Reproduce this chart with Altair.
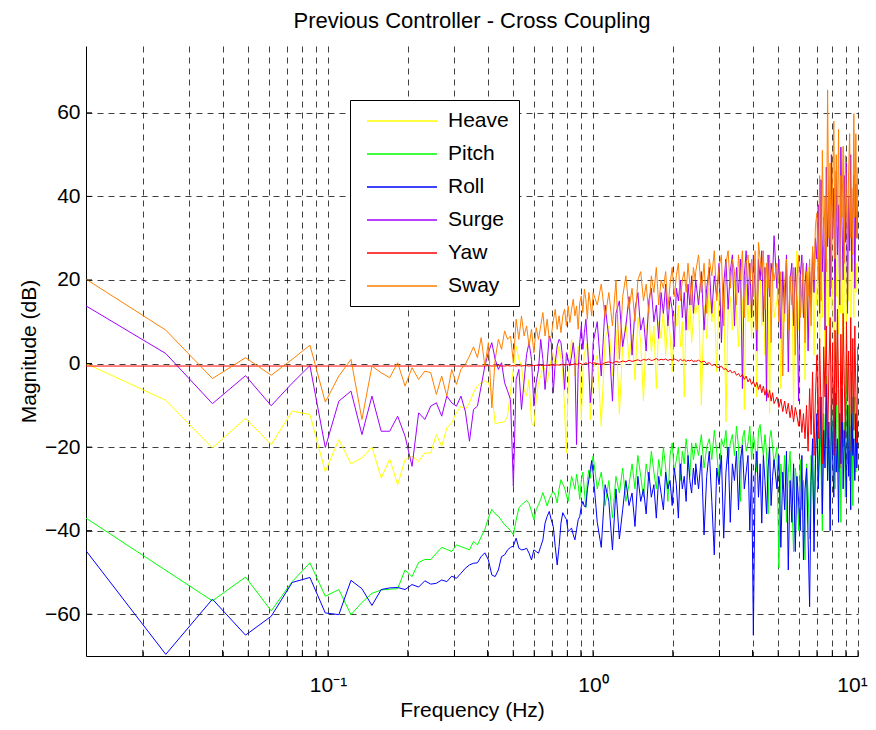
import altair as alt
import pandas as pd

# ---------------- frequency grid (FFT bins, df = 100/8192 Hz) ----------------
DF_HZ = 100.0 / 8192.0
K_LO = list(range(1, 83))          # every bin up to 1 Hz
K_A = list(range(85, 200, 3))      # 1.04 - 2.43 Hz
K_B = list(range(200, 400, 5))     # 2.44 - 4.82 Hz
K_C = list(range(405, 820, 7))     # 4.94 - 9.99 Hz
FREQ = [k * DF_HZ for k in K_LO + K_A + K_B + K_C]

SERIES = ["Heave", "Pitch", "Roll", "Surge", "Yaw", "Sway"]
COLORS = ["#FFFF00", "#00FF00", "#0000FF", "#A000FF", "#FF0000", "#FF8000"]

X_TICKS = [0.02, 0.03, 0.04, 0.05, 0.06, 0.07, 0.08, 0.09, 0.1,
           0.2, 0.3, 0.4, 0.5, 0.6, 0.7, 0.8, 0.9, 1,
           2, 3, 4, 5, 6, 7, 8, 9, 10]
Y_TICKS = [-60, -40, -20, 0, 20, 40, 60]

# ---------------- Heave (yellow) ----------------
HEAVE_LO = [0.0, -8.8, -20.2, -13.1, -19.4, -11.4, -12.2, -25.9, -18.2, -24.0,
            -22.6, -20.0, -27.4, -22.9, -29.0, -23.0, -22.2, -23.4, -21.4, -21.4,
            -17.0, -19.8, -15.4, -14.2, -11.8, -10.2, -11.0, -9.4, -7.0, -5.4,
            -4.6, -4.2, -4.6, -7.0, -14.4, -14.2, -14.1, -13.9, -12.6, -6.6,
            -1.4, 4.2, 1.0, -0.6, -6.2, -7.8, -3.8, -14.2, -15.0, -8.6,
            -4.6, -3.0, -0.6, -1.4, -4.6, -1.4, 1.0, 2.6, -0.6, 1.0,
            4.2, 1.0, -2.2, -11.0, -21.4, -5.4, 1.0, 5.8, 2.6, -3.0,
            1.0, 4.2, -0.6, -13.4, -2.2, 2.6, 3.4, 5.0, 1.0, -13.4,
            -7.8, -1.4]
HEAVE_A = [2, -15, 6, 9, -3, 8, -12, 4, 10, 1, 7, -4, 11, 5, -9, 8, 12, 3, 9, -6,
           10, 6, 13, 2, 11, 7, -2, 12, 9, 14, 4, 10, -8, 13, 8, 15, 5, 11, 14]
HEAVE_B = [12, 16, -10, 14, 6, 18, 10, 15, -2, 17, 11, 19, -14, 13, 16, 8, 20, 12, 4, 18,
           15, -11, 19, 10, 17, 6, 21, 13, -8, 18, 22, 9, 16, 2, 20, 14, -12, 19, 24, 11]
HEAVE_C = [15, 24, -6, 20, 10, 26, 3, 18, 22, -10, 16, 27, 8, 21, 12, 25, -4, 19, 23, 6,
           17, 26, 2, 21,
           14, 28, 5, 22, 11, 30, -3, 18, 25, 9, 27, 13, 20, 1, 24, 16, 29, 7, 21, 12,
           26, -5, 19, 28, 10, 23, 15, 31, 4, 20, 25, 11, 31.8, 17, 24, 22]

# ---------------- Pitch (green) ----------------
PITCH_LO = [-37.0, -49.5, -56.8, -51.1, -59.2, -52.2, -47.7, -55.7, -54.1, -60.1,
            -57.2, -55.0, -54.2, -54.0, -53.9, -49.4, -51.0, -47.6, -46.9, -46.9,
            -45.4, -44.0, -44.5, -45.0, -43.4, -43.8, -44.2, -44.6, -42.6, -43.4,
            -41.5, -39.7, -37.0, -34.9, -36.0, -36.5, -37.6, -38.6, -39.2, -40.0,
            -41.0, -37.5, -34.6, -33.8, -33.3, -32.8, -33.5, -35.4, -37.4, -35.0,
            -33.8, -32.5, -30.9, -32.5, -34.1, -32.5, -31.4, -30.6, -31.5, -33.4,
            -30.0, -27.8, -28.8, -29.8, -31.5, -33.0, -30.0, -27.0, -28.5, -30.1,
            -26.5, -29.0, -32.5, -28.0, -26.0, -30.5, -34.5, -28.0, -25.5, -27.5,
            -24.0, -22.1]
PITCH_A = [-30, -26, -34, -28, -37, -27, -31, -25, -33, -29, -24, -30, -22, -27, -32,
           -24, -28, -21, -26, -30, -23, -27, -20, -25, -33, -22, -19, -26, -23, -20,
           -28, -21, -24, -18, -22, -27, -19, -23, -20]
PITCH_B = [-19, -22, -17, -25, -20, -18, -23, -16, -21, -28, -18, -20, -16, -24, -19,
           -17, -22, -15, -20, -33, -18, -16, -21, -19, -15, -23, -17, -20, -26, -16,
           -14.6, -19, -22, -17, -21, -36, -18, -16, -20, -24]
PITCH_C = [-20, -49, -24, -30, -22, -38, -26, -21, -33, -45, -25, -29, -40, -23, -35,
           -28, -47, -24, -31, -42, -22, -27, -38, -20,
           -15, -30, -8, -25, -40, -12, -20, -3, -28, -18, -35, -10, -22, -5, -30,
           -16, 8, -26, -12, -38, -6, -20, -14, -32, 2, -24, -10, -28, -18, -2,
           -34, -15, -8, -26, -12, -20]

# ---------------- Roll (blue) ----------------
ROLL_LO = [-44.8, -69.6, -56.4, -65.0, -60.5, -52.4, -51.2, -59.7, -60.1, -51.9,
           -53.9, -57.9, -54.1, -53.7, -53.6, -54.1, -52.9, -53.5, -52.0, -52.8,
           -52.6, -51.8, -52.2, -50.9, -51.4, -50.2, -49.0, -48.2, -47.8, -47.7,
           -46.2, -45.3, -47.0, -50.6, -51.0, -49.4, -46.2, -45.8, -44.6, -44.0,
           -43.7, -41.8, -44.2, -44.6, -44.5, -44.2, -45.4, -47.0, -44.6, -45.0,
           -45.4, -43.8, -42.2, -38.2, -36.6, -35.4, -37.4, -39.0, -43.8, -48.2,
           -43.8, -38.2, -35.7, -36.6, -37.3, -40.2, -39.8, -39.4, -41.0, -42.2,
           -39.8, -37.4, -36.6, -34.2, -33.0, -34.2, -34.2, -30.2, -27.8, -25.4,
           -23.2, -26.2]
ROLL_A = [-38, -44, -29, -33, -44.6, -30, -42, -35, -28, -34, -31, -39, -27, -33, -30,
          -36, -26, -32, -29, -37, -27, -31, -35, -26, -30, -28, -34, -25, -29, -37,
          -24, -30, -27, -33, -22, -28, -31, -25, -29]
ROLL_B = [-24, -30, -22, -41, -27, -21, -33, -45.8, -25, -29, -22, -41.8, -26, -20, -38,
          -24, -28, -21, -35, -23, -19.5, -30, -26, -22, -40, -24, -65, -27, -21, -32,
          -24, -38.2, -22, -28, -36, -25, -20, -34, -27, -23]
ROLL_C = [-30, -22, -44, -26, -35, -21, -49.4, -28, -38, -24, -45, -27, -33, -40, -22,
          -47, -30, -25, -42, -58.2, -28, -18, -45, -24,
          -12, -30, -20, -8, -36, -16, -25, -5, -28, -14, -40, -10, -22, -32, -7,
          -26, -18, -38, -12, -24, -6, -30, -16, -21, -32, -10, -27, -15, -35, -8,
          -22, -18, -28, -12, -25, -14]

# ---------------- Surge (purple) ----------------
SURGE_LO = [13.8, 2.4, -9.6, -2.9, -10.1, -4.7, -0.5, -20.1, -9.0, -6.6,
            -17.0, -7.8, -16.2, -16.2, -12.6, -17.4, -24.6, -11.8, -13.4, -10.2,
            -9.4, -12.6, -7.8, -9.4, -10.2, -7.8, -11.4, -18.6, -11.0, -10.2,
            -5.4, -0.6, 2.6, 5.0, 1.0, -1.4, 0.2, -4.6, -6.6, -8.6,
            -29.4, -3.8, -1.4, -11.0, -4.2, 2.2, 5.0, 1.0, -10.2, -4.6,
            -1.4, 5.8, 1.0, -6.2, 0.2, 6.6, 5.0, -7.0, 0.2, 4.2,
            5.8, 5.0, 1.0, -6.2, 2.6, 1.0, -0.6, 1.8, 5.0, 1.0,
            -19.4, -1.4, 5.0, 9.0, 3.4, 7.4, 10.6, 5.0, -1.4, -9.4,
            -5.4, 5.0]
SURGE_A = [10, -3, 14, 6, -9, 12, 15, 4, 9, 16, 2, 13, 17, 8, 11, 3, 15, 18, 10, 14,
           6, 17, 12, 19, 9, 16, 13, 4, 18, 15, 20, 11, 17, 8, 19, 14, 21, 12, 18]
SURGE_B = [20, 14, 22, 8, 18, 23, 12, 21, 16, 24, 5, 19, 25, 13, 22, 26, 9, 23, 17, 25,
           -6, 21, 27, 14, 24, 11, 26, 18, 3, 25, 20, 27, 10, 23, -9, 26, 16, 24, 21, 30.6]
SURGE_C = [18, 25, 6, 22, 12, 26, -2, 20, 24, 9, 23, 15, -9, 21, 26, 11, 19, 24, 3, 22,
           14, 27, 17, 30,
           25, 38, 12, 44, 22, 35, 8, 47, 28, 40, 16, 50, 30, 42, 10, 46, 26, 38, 14, 51.8,
           33, 20, 45, 29, 48, 12, 40, 27, 50, 22, 36, 45, 18, 43, 30, 38]

# ---------------- Yaw (red) ----------------
YAW_LO = [-0.6, -0.6, -0.6, -0.6, -0.6, -0.6, -0.6, -0.6, -0.6, -0.6,
          -0.6, -0.6, -0.6, -0.6, -0.6, -0.6, -0.6, -0.6, -0.6, -0.6,
          -0.6, -0.6, -0.6, -0.6, -0.6, -0.6, -0.6, -0.6, -0.6, -0.6,
          -0.6, -0.6, -0.5, -0.6, -0.6, -0.5, -0.6, -0.6, -0.5, -0.6,
          -0.5, -0.6, -0.5, -0.6, -0.5, -0.5, -0.6, -0.5, -0.5, -0.4,
          -0.5, -0.4, -0.5, -0.4, -0.4, -0.5, -0.3, -0.4, -0.4, -0.3,
          -0.4, -0.3, -0.2, -0.4, -0.2, -0.3, -0.1, -0.3, -0.2, 0.0,
          -0.2, -0.1, 0.1, -0.1, -0.3, 0.0, 0.2, -0.1, 0.1, 0.3,
          0.0, 0.2]
YAW_A = [0.0, -0.3, 0.2, 0.4, 0.1, 0.5, 0.3, 0.6, 0.4, 0.8, 0.5, 0.7, 0.9, 0.6, 1.0,
         0.8, 1.1, 0.7, 0.9, 1.2, 0.8, 1.0, 0.9, 1.1, 0.7, 1.0, 0.8, 1.1, 0.9, 0.6,
         1.0, 0.7, 0.9, 0.5, 0.8, 0.6, 0.9, 0.4, 0.7]
YAW_B = [0.5, 0.8, 0.3, 0.6, 0.0, 0.2, -0.5, -0.2, -0.8, -1.0,
         -0.6, -1.4, -1.2, -2.0, -1.6, -2.3, -1.8, -2.8, -2.4, -3.2,
         -2.6, -3.8, -3.0, -4.4, -3.6, -5.0, -4.2, -5.6, -4.5, -6.2,
         -5.0, -7.0, -5.4, -7.6, -6.0, -8.2, -6.4, -9.0, -7.0, -9.6]
YAW_C = [-8.0, -10.5, -8.5, -11.5, -9.0, -12.0, -9.5, -13.0, -10.0, -14.0,
         -10.5, -12.5, -15.0, -11.0, -16.5, -12.0, -18.0, -10.0, -21.0, -6.0,
         -17.0, -2.0, -22.0, -8.0,
         2, -18, 6, -12, -24, 4, -8, 9, -20, -2, 11, -15, 5, -22, 8, -10, 13, -6,
         -25, 7, -14, 12, -4, -18, 10, -9, 3, -21, 11, -12, 6, -16, 9, -7, -19, 4]

# ---------------- Sway (orange) ----------------
SWAY_LO = [20.2, 8.0, -3.6, 1.4, -2.8, 1.0, 4.4, -9.2, -3.0, 1.0,
           -13.4, -0.6, -2.2, -3.4, 0.2, -5.4, -1.0, -3.8, -1.8, -2.2,
           -7.4, -3.0, -7.8, -1.4, -5.0, -1.4, -0.2, 1.8, 4.0, 1.4,
           6.2, -0.6, 5.0, -10.6, 1.0, 5.8, 3.4, 7.8, 5.8, 6.6,
           0.2, 10.6, 5.8, 11.4, 6.6, 9.0, 4.2, 8.2, 2.6, 8.6,
           5.8, 9.0, 12.2, 6.6, 10.6, 5.8, 6.6, 10.2, 13.0, 8.2,
           11.4, 7.4, 11.4, 13.0, 9.0, 13.8, 9.8, 13.0, 15.4, 11.4,
           13.8, 8.2, 14.6, 16.2, 12.2, 17.8, 15.4, 10.6, 17.0, 14.6,
           11.4, 17.0]
SWAY_A = [14, 19, 11, 17, 9, 20, 1, 16, 21, 13, 18, 10, 20, 22, 15, 19, 12, 21, 17, 23,
          14, 20, 18, 22, 13, 19, 23, 16, 21, 24, 15, 20, 22, 17, 24, 19, 14, 23, 20]
SWAY_B = [22, 26, 17, 24, 12, 25, 21, 27, 15, 23, 26, 9, 24, 27, 18, 25, 22, 14, 26, 20,
          27, 11, 24, 26, 19, 25, 16, 27, 8, 29, 25, 21, 27, 13, 24, 18, 26, 5, 23, 20]
SWAY_C = [24, 10, 22, -3, 19, 25, 8, 21, 14, 23, 2, 20, 26, 11, 18, 24, 5, 22, 16, 25,
          9, 28, 20, 33,
          36, 20, 45, 15, 51, 28, 40, 22, 65.5, 30, 48, 18, 42, 58, 25, 50, 33, 56, 20,
          45, 35, 52, 24, 49.8, 38, 28, 46, 55, 30, 42, 26, 59.8, 35, 55, 30, 47]

VALUES = {
    "Heave": HEAVE_LO + HEAVE_A + HEAVE_B + HEAVE_C,
    "Pitch": PITCH_LO + PITCH_A + PITCH_B + PITCH_C,
    "Roll": ROLL_LO + ROLL_A + ROLL_B + ROLL_C,
    "Surge": SURGE_LO + SURGE_A + SURGE_B + SURGE_C,
    "Yaw": YAW_LO + YAW_A + YAW_B + YAW_C,
    "Sway": SWAY_LO + SWAY_A + SWAY_B + SWAY_C,
}

rows = []
for s in SERIES:
    vals = VALUES[s]
    n = min(len(vals), len(FREQ))
    for f, v in zip(FREQ[:n], vals[:n]):
        rows.append({"freq": f, "mag": v, "series": s})
df = pd.DataFrame(rows)

FONT = "Liberation Sans"
GRID = dict(grid=True, gridColor="#000000", gridOpacity=0.75, gridDash=[6, 5], gridWidth=1)

x_enc = alt.X(
    "freq:Q",
    scale=alt.Scale(type="log", domain=[FREQ[0], 10], nice=False),
    axis=alt.Axis(
        values=X_TICKS, title="Frequency (Hz)", ticks=False,
        labelExpr="datum.value == 0.1 ? '10⁻¹' : datum.value == 1 ? '10⁰' : datum.value == 10 ? '10¹' : ''",
        labelOffset={"condition": {"test": "datum.value == 10", "value": -6}, "value": 0},
        labelFontSize=21, labelPadding=18, labelOverlap=False, labelFlush=False,
        titleFontSize=21, titlePadding=4, **GRID,
    ),
)
y_enc = alt.Y(
    "mag:Q",
    scale=alt.Scale(domain=[-70, 76], nice=False, zero=False),
    axis=alt.Axis(
        values=Y_TICKS, title="Magnitude (dB)", ticks=False,
        labelFontSize=21, labelPadding=6, titleFontSize=21, titlePadding=5, **GRID,
    ),
)

lines = alt.Chart(df).mark_line(strokeWidth=1, clip=True).encode(
    x=x_enc,
    y=y_enc,
    color=alt.Color(
        "series:N",
        scale=alt.Scale(domain=SERIES, range=COLORS),
        legend=alt.Legend(
            title=None, orient="none", legendX=264, legendY=54,
            symbolType="M-3.5,0L3.5,0", symbolSize=400, symbolStrokeWidth=1.3,
            symbolFillColor="transparent",
            labelFontSize=21, labelFont=FONT, labelColor="black", labelLimit=0,
            padding=10, rowPadding=12, symbolOffset=31, labelOffset=35,
            strokeColor="black", fillColor="white",
        ),
    ),
)

xticks = alt.Chart(pd.DataFrame({"freq": X_TICKS})).mark_rule(
    color="black", strokeWidth=1
).encode(x="freq:Q", y=alt.value(610), y2=alt.value(604))

yticks = alt.Chart(pd.DataFrame({"mag": Y_TICKS})).mark_rule(
    color="black", strokeWidth=1
).encode(y="mag:Q", x=alt.value(0), x2=alt.value(6))

chart = alt.layer(lines, xticks, yticks).properties(
    width=772,
    height=610,
    title=alt.TitleParams(
        text="Previous Controller - Cross Coupling", fontSize=22, font=FONT,
        fontWeight="normal", color="black", anchor="middle", offset=13,
    ),
    autosize=alt.AutoSizeParams(type="none"),
    padding={"left": 78, "top": 38, "right": 10, "bottom": 66},
    background="white",
).configure_view(stroke=None).configure_axis(
    labelFont=FONT, titleFont=FONT, labelColor="black", titleColor="black",
    titleFontWeight="normal", domainColor="black", domainWidth=1,
)

chart.save("out.html", embed_options={"renderer": "svg", "actions": False})
